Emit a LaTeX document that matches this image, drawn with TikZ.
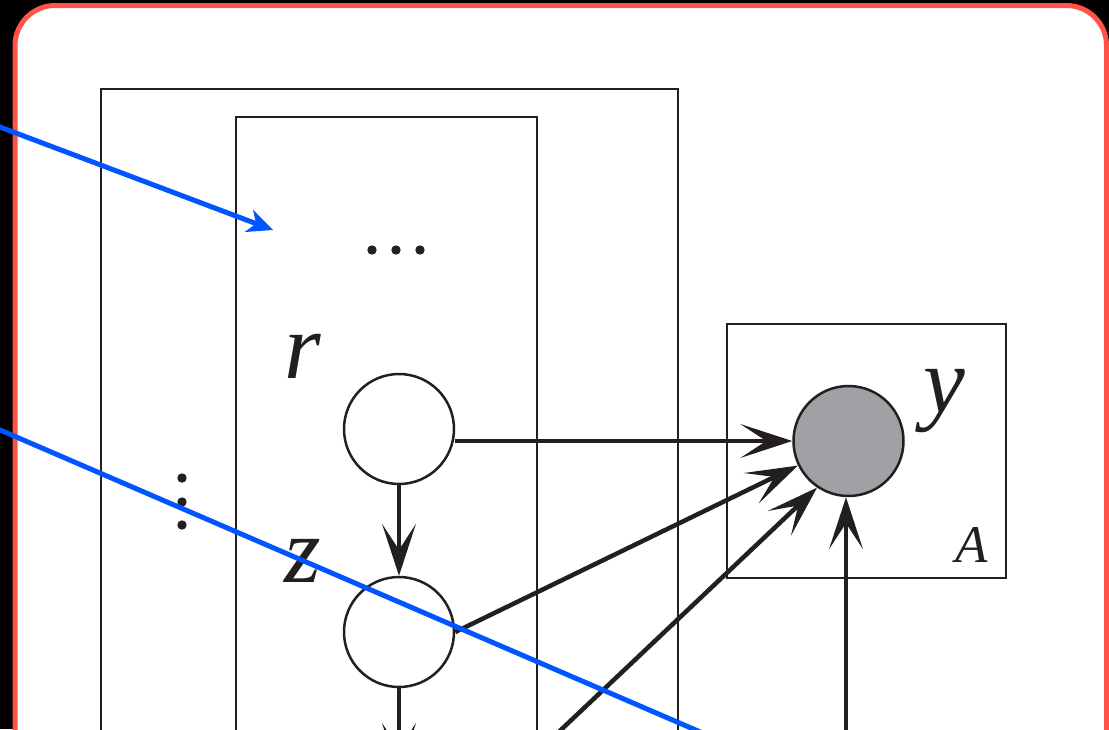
\documentclass[tikz,border=0pt]{standalone}
\usepackage{fontspec}
\setmainfont{Liberation Serif}
\usetikzlibrary{arrows.meta,calc}
\definecolor{ink}{RGB}{35,31,32}
\definecolor{framered}{RGB}{255,82,72}
\definecolor{annotblue}{RGB}{0,85,255}
\definecolor{obsgray}{RGB}{160,161,165}
\begin{document}
\begin{tikzpicture}[x=1pt,y=-1pt,
  plate/.style={draw=ink,line width=2pt},
  var/.style={circle,draw=ink,line width=2.5pt,minimum size=110pt,inner sep=0pt},
  conn/.style={draw=ink,line width=4.5pt,-{Stealth[length=52pt,width=34pt,inset=26pt,line width=0pt]}},
  annotline/.style={draw=annotblue,line width=5pt},
  lab/.style={font=\fontsize{94}{94}\selectfont\itshape,inner sep=0pt,anchor=base,text=ink},
  dotmark/.style={fill=ink},
  ]
\useasboundingbox (0,0) rectangle (1109,729);
\clip (0,0) rectangle (1109,729);
\fill[black] (0,0) rectangle (1109,729);
\draw[framered, line width=5pt, fill=white, rounded corners=40pt] (15,5.5) rectangle (1106.5,900);

% plates
\draw[plate] (101,89) rectangle (678,800);
\draw[plate] (236,117) rectangle (537,800);
\draw[plate] (727,324) rectangle (1005.5,577.5);

% variables
\node[var] (r) at (399,429) {};
\node[var] (z) at (399,632) {};
\node[var,fill=obsgray] (y) at (848.5,441) {};

% labels
\node[lab] (rl) at (303,378) {r};
\node[lab] (zl) at (303,582) {z};
\node[lab] (yl) at (944,412) {y};
\node[lab,font=\fontsize{53}{53}\selectfont\itshape] (al) at (972,562) {A};

% dots
\fill[dotmark] (372,250) circle (4.7pt);
\fill[dotmark] (396,250) circle (4.7pt);
\fill[dotmark] (420,250) circle (4.7pt);
\fill[dotmark] (182,478) circle (4.7pt);
\fill[dotmark] (182,502) circle (4.7pt);
\fill[dotmark] (182,525) circle (4.7pt);

% connectors
\draw[conn] (r.east |- y.center) -- (y.west);
\draw[conn] (z.east) -- (y);
\coordinate (c3) at (509,779);
\draw[conn] (c3) -- (y.236);
\coordinate (c4) at (846,780);
\draw[conn] (c4) -- (c4 |- y.south);
\draw[conn] (r.south) -- (z.north);
\coordinate (c6) at (399,775);
\draw[conn] (z.south) -- (c6);

% annotations
\coordinate (b1) at (-30,115.7);
\coordinate (b1t) at (273,230);
\draw[annotline,-{Stealth[length=26pt,width=24pt,inset=8pt,line width=0pt]}] (b1) -- (b1t);
\coordinate (b2s) at (-30,417);
\coordinate (b2e) at (800,775);
\draw[annotline] (b2s) -- (b2e);
\end{tikzpicture}
\end{document}
